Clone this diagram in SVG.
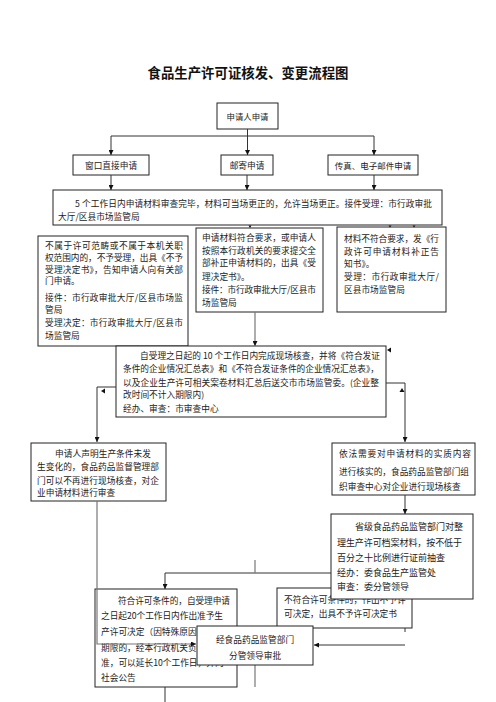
<svg xmlns="http://www.w3.org/2000/svg" width="496" height="702" viewBox="0 0 496 702">
<style>
.bx{fill:#fff;stroke:#222;stroke-width:1}
.t{font-family:"Noto Sans CJK SC","Noto Sans",sans-serif;font-size:8.7px;fill:#222}
.c{text-anchor:middle}
.ln{fill:none;stroke:#333;stroke-width:1}
.lg{fill:none;stroke:#777;stroke-width:1.2}
.ah{fill:#111}
.title{font-family:"Noto Sans CJK SC","Noto Sans",sans-serif;font-size:13.4px;font-weight:bold;fill:#111;text-anchor:middle}
</style>
<defs>
<marker id="arr" viewBox="0 0 8 8" refX="8" refY="4" markerWidth="5" markerHeight="5" orient="auto" markerUnits="userSpaceOnUse">
<path d="M0,0 L8,4 L0,8 Z" fill="#111"/>
</marker>
</defs>
<rect width="496" height="702" fill="#fff"/>
<text class="title" x="248" y="78">食品生产许可证核发、变更流程图</text>

<g id="n-apply">
<rect class="bx" x="217" y="103" width="61" height="26"/>
<text class="t c" x="247.5" y="119.5" style="font-size:8.4px">申请人申请</text>
</g>
<g id="n-window">
<rect class="bx" x="73" y="155" width="76" height="20"/>
<text class="t c" x="111" y="168.5">窗口直接申请</text>
</g>
<g id="n-mail">
<rect class="bx" x="221" y="155" width="52" height="20"/>
<text class="t c" x="247" y="168.5">邮寄申请</text>
</g>
<g id="n-fax">
<rect class="bx" x="328" y="155" width="90" height="20"/>
<text class="t c" x="373" y="168.5" style="font-size:8.5px">传真、电子邮件申请</text>
</g>
<g id="n-review5">
<rect class="bx" x="53" y="190" width="389" height="35"/>
<text class="t" x="75" y="206.5" textLength="357" lengthAdjust="spacing">5 个工作日内申请材料审查完毕，材料可当场更正的，允许当场更正。接件受理：市行政审批</text>
<text class="t" x="58" y="220">大厅/区县市场监管局</text>
</g>
<g id="n-reject">
<rect class="bx" x="38" y="236" width="150" height="110"/>
<text class="t" x="45" y="249" textLength="138" lengthAdjust="spacing">不属于许可范畴或不属于本机关职</text>
<text class="t" x="45" y="261" textLength="138" lengthAdjust="spacing">权范围内的，不予受理，出具《不予</text>
<text class="t" x="45" y="272.5" textLength="138" lengthAdjust="spacing">受理决定书》，告知申请人向有关部</text>
<text class="t" x="45" y="284">门申请。</text>
<text class="t" x="45" y="301" textLength="138" lengthAdjust="spacing">接件：市行政审批大厅/区县市场监</text>
<text class="t" x="45" y="313">管局</text>
<text class="t" x="45" y="326" textLength="138" lengthAdjust="spacing">受理决定：市行政审批大厅/区县市</text>
<text class="t" x="45" y="339">场监管局</text>
</g>
<g id="n-accept">
<rect class="bx" x="196" y="228" width="127" height="84"/>
<text class="t" x="202" y="241" textLength="114" lengthAdjust="spacing">申请材料符合要求，或申请人</text>
<text class="t" x="202" y="253.5" textLength="114" lengthAdjust="spacing">按照本行政机关的要求提交全</text>
<text class="t" x="202" y="266" textLength="114" lengthAdjust="spacing">部补正申请材料的，出具《受</text>
<text class="t" x="202" y="279.5">理决定书》。</text>
<text class="t" x="202" y="292.5" textLength="114" lengthAdjust="spacing">接件：市行政审批大厅/区县市</text>
<text class="t" x="202" y="305.5">场监管局</text>
</g>
<g id="n-correct">
<rect class="bx" x="337" y="227" width="109" height="85"/>
<text class="t" x="344" y="242" textLength="95" lengthAdjust="spacing">材料不符合要求，发《行</text>
<text class="t" x="344" y="254.5" textLength="95" lengthAdjust="spacing">政许可申请材料补正告</text>
<text class="t" x="344" y="267">知书》。</text>
<text class="t" x="344" y="280" textLength="95" lengthAdjust="spacing">受理：市行政审批大厅/</text>
<text class="t" x="344" y="292.5">区县市场监管局</text>
</g>
<g id="n-inspect10">
<rect class="bx" x="116" y="346" width="270" height="71"/>
<text class="t" x="140" y="358.5" textLength="240" lengthAdjust="spacing">自受理之日起的 10 个工作日内完成现场核查，并将《符合发证</text>
<text class="t" x="123" y="372" textLength="256" lengthAdjust="spacing">条件的企业情况汇总表》和《不符合发证条件的企业情况汇总表》，</text>
<text class="t" x="123" y="385.5" textLength="256" lengthAdjust="spacing">以及企业生产许可相关案卷材料汇总后送交市市场监管委。(企业整</text>
<text class="t" x="123" y="398">改时间不计入期限内)</text>
<text class="t" x="123" y="411.5">经办、审查：市审查中心</text>
</g>
<g id="n-declare">
<rect class="bx" x="31" y="443" width="135" height="58"/>
<text class="t" x="55" y="457" textLength="96" lengthAdjust="spacing">申请人声明生产条件未发</text>
<text class="t" x="37" y="470" textLength="122" lengthAdjust="spacing">生变化的，食品药品监督管理部</text>
<text class="t" x="37" y="483.5" textLength="122" lengthAdjust="spacing">门可以不再进行现场核查，对企</text>
<text class="t" x="37" y="496">业申请材料进行审查</text>
</g>
<g id="n-verify">
<rect class="bx" x="332" y="443" width="143" height="52"/>
<text class="t" x="339" y="457" textLength="132" lengthAdjust="spacing">依法需要对申请材料的实质内容</text>
<text class="t" x="339" y="475" textLength="130" lengthAdjust="spacing">进行核实的，食品药品监管部门组</text>
<text class="t" x="339" y="490">织审查中心对企业进行现场核查</text>
</g>
<g id="n-deny">
<rect class="bx" x="277" y="588" width="135" height="40"/>
<text class="t" x="284" y="603">不符合许可条件的，作出不予许</text>
<text class="t" x="284" y="616.5">可决定，出具不予许可决定书</text>
</g>
<g id="n-province">
<rect class="bx" x="331" y="514" width="142" height="85"/>
<text class="t" x="355" y="529.5" style="font-size:9px">省级食品药品监管部门对整</text>
<text class="t" x="337" y="545.5" style="font-size:9px" textLength="125" lengthAdjust="spacing">理生产许可档案材料，按不低于</text>
<text class="t" x="337" y="560.5" style="font-size:9px">百分之十比例进行证前抽查</text>
<text class="t" x="337" y="575.5" style="font-size:9px">经办：委食品生产监管处</text>
<text class="t" x="337" y="590" style="font-size:9px">审查：委分管领导</text>
</g>
<g id="n-grant">
<rect class="bx" x="95" y="589" width="142" height="98"/>
<text class="t" x="118" y="604" textLength="112" lengthAdjust="spacing">符合许可条件的，自受理申请</text>
<text class="t" x="101" y="619" textLength="122" lengthAdjust="spacing">之日起20个工作日内作出准予生</text>
<text class="t" x="101" y="635">产许可决定（因特殊原因需要延长</text>
<text class="t" x="101" y="651">期限的，经本行政机关负责人批</text>
<text class="t" x="101" y="666">准，可以延长10个工作日，并向</text>
<text class="t" x="101" y="681">社会公告</text>
</g>

<g id="connectors">
<path class="ln" d="M247.5,129 V155" marker-end="url(#arr)"/>
<path class="ln" d="M111,136 H374"/>
<path class="ln" d="M111,136 V155" marker-end="url(#arr)"/>
<path class="ln" d="M374,136 V155" marker-end="url(#arr)"/>
<path class="ln" d="M111,175 V190" marker-end="url(#arr)"/>
<path class="ln" d="M247,175 V190" marker-end="url(#arr)"/>
<path class="ln" d="M374,175 V190" marker-end="url(#arr)"/>
<path class="ah" d="M248.5,225.5 h3 l-1.5,2.5 Z"/>
<path class="ah" d="M388.5,225.5 h3 l-1.5,2 Z"/>
<path class="ah" d="M412.5,225.5 h3 l-1.5,2 Z"/>
<path class="lg" d="M255,312 V346" marker-end="url(#arr)"/>
<path class="ln" d="M116,387 H97 V442" marker-end="url(#arr)"/>
<path class="ah" d="M101,391 l4,-2.5 v5 Z"/>
<path class="ln" d="M386,383 H405 V442" marker-end="url(#arr)"/>
<path class="ah" d="M402,388 l2.5,4 h-5 Z"/>
<path class="ah" d="M387,350 l4,-2.5 v5 Z"/>
<path class="lg" d="M97,501 V644 H196" marker-end="url(#arr)"/>
<path class="ln" d="M405,495 V514" marker-end="url(#arr)"/>
<path class="ln" d="M331,573 H165 V589" marker-end="url(#arr)"/>
<path class="lg" d="M255,560 V573"/>
<path class="ln" d="M405,628 V632"/>
<path class="ln" d="M405,645 H314" marker-end="url(#arr)"/>
<path class="lg" d="M255,665 V687"/>
<path class="ln" d="M165,687 V702"/>
</g>

<g id="n-approve">
<rect class="bx" x="197" y="626" width="116" height="39"/>
<text class="t c" x="255" y="643">经食品药品监管部门</text>
<text class="t c" x="255" y="659">分管领导审批</text>
</g>
</svg>
